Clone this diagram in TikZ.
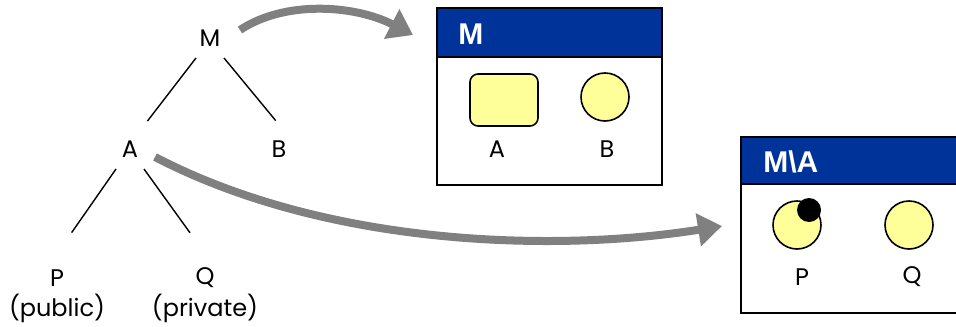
\documentclass[tikz,border=0pt]{standalone}
\usepackage{fontspec}
\setmainfont{Poppins}
\newfontfamily\headfont{Liberation Sans}
\usetikzlibrary{arrows.meta,positioning}
\definecolor{hdrblue}{HTML}{003399}
\definecolor{elemyellow}{HTML}{FFFF99}
\definecolor{arrgray}{HTML}{808080}

\begin{document}
\begin{tikzpicture}[x=0.5pt,y=-0.5pt,
    tree/.style={circle,minimum size=24pt,inner sep=0pt,
      font=\fontsize{12}{14}\selectfont},
    lbl/.style={inner sep=0pt,font=\fontsize{12}{14}\selectfont},
    branch/.style={line width=0.7pt},
    pkg/.style={draw,line width=1pt,fill=white},
    hdr/.style={draw,line width=1pt,fill=hdrblue},
    hdrtext/.style={anchor=west,inner sep=0pt,text=white,
      font=\headfont\bfseries\fontsize{15}{17}\selectfont},
    elem/.style={draw,line width=0.8pt,fill=elemyellow,inner sep=0pt},
    bigarrow/.style={line width=4pt,draw=arrgray,
      -{Triangle[length=12pt,width=16pt]}}]
      \useasboundingbox (0,0) rectangle (956,326);
      \clip (0,0) rectangle (956,326);
      % Add the tree
      \node[tree] (m) at (210,38) {M};
      \node[tree] (a) at (130,149) {A};
      \node[tree] (b) at (279,149) {B};
      \node[tree] (p) at (57,278) {P};
      \node[tree] (q) at (205,278) {Q};
      \node[lbl] (pub) at (57,308) {(public)};
      \node[lbl] (priv) at (205,308) {(private)};
      \draw[branch, shorten >=4.3pt] (m.235) -- (a.60);
      \draw[branch, shorten >=2.6pt] (m.305) -- (b.north);
      \draw[branch, shorten >=12.8pt] (a.235) -- (p.north);
      \draw[branch, shorten >=12.8pt] (a.305) -- (q.north);
      % Package M
      \draw[pkg] (437,57) rectangle (662,185);
      \draw[hdr] (437,8) rectangle (662,57);
      \node[hdrtext] (mtitle) at (458,34) {M};
      \node[elem,
        rounded corners=4pt,
        minimum width=34pt,
        minimum height=26pt] (ca) at (504,100) {};
      \node[elem,
        circle,
        minimum size=24pt] (cb) at (605,97) {};
      \node[lbl] (la) at (497,149) {A};
      \node[lbl] (lb) at (607,149) {B};
      % Package M\A
      \draw[pkg] (741,184) rectangle (1000,313);
      \draw[hdr] (741,137) rectangle (1000,184);
      \node[hdrtext] (matitle) at (763,162) {M\textbackslash A};
      \node[elem,
        circle,
        minimum size=24pt] (cp) at (797,225) {};
      \node[circle,
        fill=black,
        inner sep=0pt,
        minimum size=12pt] (dot) at (809,210) {};
      \node[elem,
        circle,
        minimum size=24pt] (cq) at (909,225) {};
      \node[lbl] (lp) at (802,277) {P};
      \node[lbl] (lq) at (912,277) {Q};
      % Connect the tree to the packages
      \coordinate (m-tail) at (240,30);
      \coordinate (m-head) at (413,35);
      \coordinate (a-tail) at (155,157);
      \coordinate (a-head) at (722,226);
      \draw[bigarrow] (m-tail) .. controls (285,0) and (355,5) .. (m-head);
      \draw[bigarrow] (a-tail) .. controls (330,248) and (560,252) .. (a-head);
    \end{tikzpicture}
\end{document}
